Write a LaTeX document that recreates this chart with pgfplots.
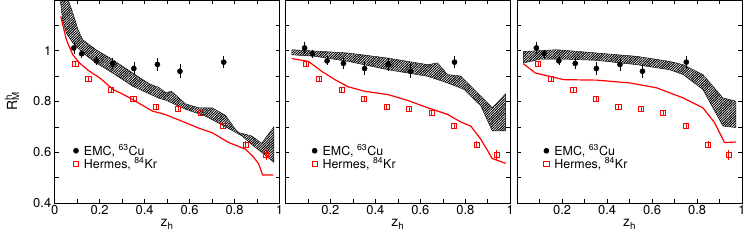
\documentclass[border=0pt]{standalone}
\usepackage{fontspec}
\setmainfont{TeX Gyre Heros}
\usepackage{pgfplots}
\usepackage{pgfplotstable}
\pgfplotsset{compat=1.18}
\usetikzlibrary{patterns.meta}

\pgfplotstableread{
x y ey
0.085 1.011 0.022
0.120 0.988 0.015
0.185 0.960 0.018
0.258 0.950 0.022
0.352 0.930 0.025
0.457 0.946 0.025
0.557 0.919 0.028
0.752 0.955 0.025
}\emc

\pgfplotstableread{
x y ey
0.092 0.948 0.008
0.150 0.888 0.008
0.250 0.844 0.008
0.350 0.811 0.009
0.450 0.778 0.009
0.550 0.771 0.009
0.650 0.756 0.010
0.750 0.704 0.012
0.850 0.630 0.015
0.940 0.590 0.020
}\hermes

\pgfplotsset{
 panel/.style={
  scale only axis, width=226pt, height=204pt,
  xmin=0,xmax=1,ymin=0.4,ymax=1.2,
  xtick={0,0.2,0.4,0.6,0.8,1}, minor xtick={0.1,0.3,0.5,0.7,0.9},
  ytick={0.4,0.6,0.8,1}, minor ytick={0.5,0.7,0.9,1.1},
  tick align=inside, major tick length=4pt, minor tick length=4pt,
  tick style={black, line width=0.6pt},
  axis line style={line width=0.8pt},
  /pgf/number format/assume math mode=true,
  tick label style={font=\fontsize{13}{15}\selectfont},
  xticklabel style={yshift=1pt},
  label style={font=\fontsize{14}{16}\selectfont},
  xlabel={z\textsubscript{h}},
  xlabel style={yshift=2pt},
  legend style={draw=none, fill=none, font=\fontsize{12.5}{15}\selectfont,
    legend cell align=left, row sep=0pt, inner sep=0pt, nodes={inner sep=0.5pt}},
  legend image code/.code={\draw[#1] plot coordinates {(0.15cm,0cm)}; \path[draw=none] (0,0) -- (0.15cm+7.5pt,0);},
  anchor=south west,
 },
 band/.style={draw=black, line width=0.4pt, pattern={Lines[angle=45,distance=1.8pt,line width=1pt]}},
 model/.style={red, line width=1.2pt, no markers},
 emc/.style={only marks, mark=*, mark size=2.6pt, black, forget plot,
   error bars/.cd, y dir=both, y explicit, error mark=none, error bar style={line width=0.6pt}},
 herm/.style={only marks, mark=square, mark size=2.6pt, red, mark options={line width=0.9pt}, forget plot,
   error bars/.cd, y dir=both, y explicit, error mark=none, error bar style={line width=0.6pt}},
}

\newcommand{\datapoints}{%
  \addplot[emc] table[x=x,y=y,y error=ey] {\emc};
  \addplot[herm] table[x=x,y=y,y error=ey] {\hermes};
  \addlegendimage{only marks, mark=*, mark size=2.6pt, black}
  \addlegendentry{EMC, \textsuperscript{63}Cu}
  \addlegendimage{only marks, mark=square, mark size=2.6pt, red, mark options={line width=0.9pt}}
  \addlegendentry{Hermes, \textsuperscript{84}Kr}
}

\begin{document}
\begin{tikzpicture}
% ---------------- panel 1
\begin{axis}[panel, at={(0pt,0pt)},
  ylabel={R\rlap{\textsuperscript{h}}\textsubscript{M}},
  ylabel style={at={(axis description cs:-0.19,0.5)}, anchor=center},
  legend style={at={(rel axis cs:0.075,0.29)}, anchor=north west}]
\addplot[band, forget plot] coordinates {
(0.020,1.25) (0.060,1.200) (0.081,1.148) (0.105,1.080) (0.125,1.043) (0.184,1.004)
(0.258,0.965) (0.347,0.912) (0.420,0.870) (0.465,0.854) (0.494,0.835) (0.520,0.840)
(0.545,0.820) (0.583,0.790) (0.642,0.775) (0.700,0.775) (0.760,0.745) (0.800,0.695)
(0.820,0.677) (0.877,0.664) (0.920,0.635) (0.975,0.700)
(0.975,0.560) (0.920,0.600) (0.877,0.630) (0.833,0.664) (0.760,0.700) (0.671,0.742)
(0.583,0.769) (0.494,0.805) (0.465,0.812) (0.347,0.860) (0.258,0.912) (0.184,0.952)
(0.125,0.991) (0.081,1.030) (0.052,1.069) (0.035,1.120) (0.025,1.200) (0.020,1.25)
} -- cycle;
\addplot[model, forget plot] coordinates {
(0.027,1.135) (0.052,1.043) (0.080,0.985) (0.110,0.952) (0.150,0.922) (0.200,0.893)
(0.260,0.847) (0.300,0.830) (0.346,0.808) (0.400,0.780) (0.435,0.762) (0.490,0.749)
(0.583,0.716) (0.640,0.695) (0.700,0.677) (0.774,0.638) (0.848,0.612) (0.880,0.585)
(0.907,0.555) (0.925,0.510) (0.973,0.510)
};
\datapoints
\end{axis}
% ---------------- panel 2
\begin{axis}[panel, at={(232pt,0pt)}, yticklabels={},
  xticklabels={,0.2,0.4,0.6,0.8,1},
  legend style={at={(rel axis cs:0.11,0.29)}, anchor=north west}]
\addplot[band, forget plot] coordinates {
(0.028,1.004) (0.150,0.998) (0.279,0.991) (0.456,0.971) (0.633,0.945) (0.677,0.952)
(0.721,0.906) (0.780,0.900) (0.854,0.834) (0.920,0.775) (0.979,0.830)
(0.979,0.684) (0.920,0.684) (0.869,0.782) (0.795,0.847) (0.721,0.873) (0.633,0.899)
(0.456,0.925) (0.279,0.958) (0.131,0.978) (0.028,0.984)
} -- cycle;
\addplot[model, forget plot] coordinates {
(0.028,0.969) (0.102,0.958) (0.161,0.919) (0.220,0.886) (0.279,0.858) (0.353,0.840)
(0.456,0.827) (0.544,0.804) (0.633,0.775) (0.721,0.749) (0.780,0.719) (0.824,0.703)
(0.869,0.651) (0.920,0.575) (0.979,0.556)
};
\datapoints
\end{axis}
% ---------------- panel 3
\begin{axis}[panel, at={(465pt,0pt)}, yticklabels={},
  xticklabels={,0.2,0.4,0.6,0.8,1},
  legend style={at={(rel axis cs:0.11,0.29)}, anchor=north west}]
\addplot[band, forget plot] coordinates {
(0.027,0.997) (0.177,1.004) (0.354,0.991) (0.531,0.978) (0.678,0.958) (0.738,0.945)
(0.826,0.906) (0.915,0.814) (0.973,0.801)
(0.973,0.697) (0.915,0.703) (0.826,0.847) (0.738,0.906) (0.678,0.925) (0.531,0.945)
(0.354,0.962) (0.207,0.967) (0.103,0.967) (0.027,0.951)
} -- cycle;
\addplot[model, forget plot] coordinates {
(0.027,0.949) (0.081,0.912) (0.207,0.886) (0.354,0.884) (0.501,0.873) (0.619,0.854)
(0.738,0.814) (0.826,0.775) (0.878,0.716) (0.922,0.638) (0.973,0.640)
};
\datapoints
\end{axis}
\pgfresetboundingbox
\path (-55pt,-41pt) rectangle (696pt,204pt);
\end{tikzpicture}
\end{document}
